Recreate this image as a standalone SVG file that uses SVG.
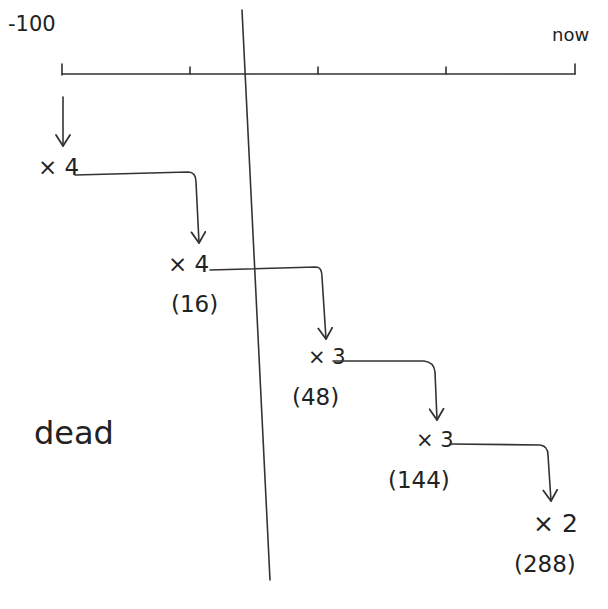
<svg xmlns="http://www.w3.org/2000/svg" width="608" height="609" viewBox="0 0 608 609">
<defs>
<marker id="ah" viewBox="0 0 14 16" refX="12" refY="8" markerWidth="14" markerHeight="16" markerUnits="userSpaceOnUse" orient="auto">
<path d="M1,1 L12,8 L1,15" fill="none" stroke="#333" stroke-width="1.8" stroke-linecap="round" stroke-linejoin="round"/>
</marker>
</defs>
<style>
.ln{fill:none;stroke:#333;stroke-width:1.6;stroke-linecap:round;stroke-linejoin:round}
.t{font-family:"DejaVu Sans","Liberation Sans",sans-serif;fill:#222}
</style>
<rect width="608" height="609" fill="#fff"/>
<g id="axis">
<path class="ln" d="M62,74 L575,74"/>
<path class="ln" d="M62,64 L62,75 M190,67 L190,74 M318,67 L318,74 M446,67 L446,74 M575,64 L575,74"/>
<path class="ln" d="M242,10 L270,580"/>
<text class="t" x="8" y="31" font-size="21">-100</text>
<text class="t" x="552" y="41" font-size="18">now</text>
</g>
<g id="n1"><text class="t" x="38" y="175" font-size="23">× 4</text></g>
<g id="n2"><text class="t" x="168" y="272" font-size="23">× 4</text><text class="t" x="171" y="312" font-size="23">(16)</text></g>
<g id="n3"><text class="t" x="308" y="364" font-size="21">× 3</text><text class="t" x="292" y="405" font-size="23">(48)</text></g>
<g id="n4"><text class="t" x="416" y="447" font-size="21">× 3</text><text class="t" x="388" y="488" font-size="23">(144)</text></g>
<g id="n5"><text class="t" x="533" y="532" font-size="25">× 2</text><text class="t" x="514" y="572" font-size="23">(288)</text></g>
<g id="dead"><text class="t" x="34" y="444" font-size="32">dead</text></g>
<g id="connectors">
<path class="ln" marker-end="url(#ah)" d="M63,97 L63,146"/>
<path class="ln" marker-end="url(#ah)" d="M75,175 L188,172 Q196,172 196,182 L199,243"/>
<path class="ln" marker-end="url(#ah)" d="M210,270 L316,267 Q322,267 322,277 L326,339"/>
<path class="ln" marker-end="url(#ah)" d="M333,361 L424,361 Q434,362 435,372 L437,420"/>
<path class="ln" marker-end="url(#ah)" d="M450,444 L540,445 Q548,446 548,455 L551,501"/>
</g>
</svg>
